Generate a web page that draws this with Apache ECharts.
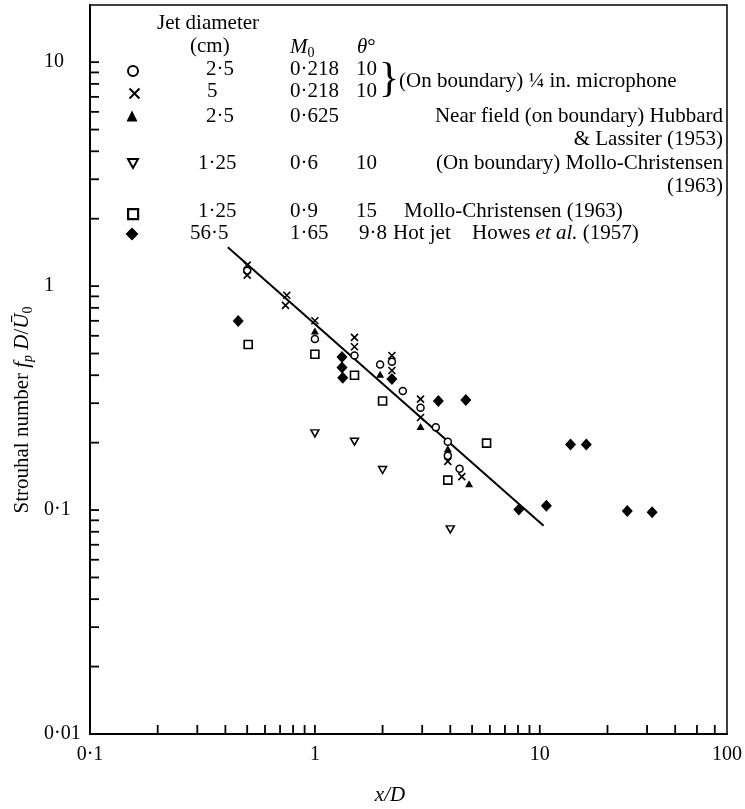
<!DOCTYPE html>
<html><head><meta charset="utf-8">
<script src="https://cdn.jsdelivr.net/npm/echarts@6/dist/echarts.min.js"></script>
<style>html,body{margin:0;padding:0;background:#fff}#c{width:745px;height:809px}</style>
</head><body><div id="c"></div>
<script>
// ---- data (x/D, Strouhal number) ----
const circleData   = [[0.5,1.17],[1.0,0.58],[1.5,0.49],[1.95,0.447],[2.2,0.46],[2.46,0.34],[2.95,0.286],[3.45,0.234],[3.9,0.202],[3.9,0.175],[4.4,0.153]];
const crossData    = [[0.5,1.24],[0.5,1.12],[0.75,0.91],[0.74,0.82],[1.0,0.70],[1.5,0.59],[1.5,0.536],[2.2,0.49],[2.2,0.42],[2.95,0.313],[2.95,0.259],[3.9,0.165],[4.5,0.141]];
const triangleData = [[1.0,0.63],[1.95,0.404],[2.95,0.236],[3.9,0.188],[4.85,0.131]];
const downTriData  = [[1.0,0.22],[1.5,0.202],[2.0,0.151],[4.0,0.082]];
const squareData   = [[0.505,0.549],[1.0,0.496],[1.5,0.40],[2.0,0.307],[3.9,0.136],[5.8,0.199]];
const diamondData  = [[0.456,0.698],[1.32,0.483],[1.32,0.433],[1.33,0.39],[2.2,0.385],[3.54,0.307],[4.69,0.31],[8.07,0.1007],[10.7,0.1045],[13.7,0.196],[16.1,0.196],[24.5,0.099],[31.6,0.0977]];
const fitLine      = [[0.41,1.49],[10.4,0.085]];

const xRange = [0.1, 68];
const yRange = [0.01, 18];
const xTickVals = [0.2,0.3,0.4,0.5,0.6,0.7,0.8,0.9,1,2,3,4,5,6,7,8,9,10,20,30,40,50,60];
const yTickVals = [0.02,0.03,0.04,0.05,0.06,0.07,0.08,0.09,0.1,0.2,0.3,0.4,0.5,0.6,0.7,0.8,0.9,1,2,3,4,5,6,7,8,9,10];
const xLabelMap = {'0.1':'0·1','1':'1','10':'10'};
const yLabelMap = {'0.01':'0·01','0.1':'0·1','1':'1','10':'10'};

const FONT = 'Liberation Serif';
const chart = echarts.init(document.getElementById('c'), null, {renderer:'canvas'});

function fmtX(v){
  for (const k in xLabelMap) if (Math.abs(Math.log10(v) - Math.log10(+k)) < 1e-6) return xLabelMap[k];
  if (v > 50) return '100';
  return '';
}
function fmtY(v){
  for (const k in yLabelMap) if (Math.abs(Math.log10(v) - Math.log10(+k)) < 1e-6) return yLabelMap[k];
  return '';
}

function tickSeries(vals, dir){
  return {
    type:'custom', silent:true, clip:false, z:5,
    data: vals.map(v => dir === 'y' ? [xRange[0], v] : [v, yRange[0]]),
    renderItem: function(params, api){
      const p = api.coord([api.value(0), api.value(1)]);
      const L = 9;
      const shape = dir === 'y'
        ? {x1:p[0], y1:p[1], x2:p[0]+L, y2:p[1]}
        : {x1:p[0], y1:p[1], x2:p[0], y2:p[1]-L};
      return {type:'line', shape:shape, style:{stroke:'#000', lineWidth:1.8}};
    }
  };
}

const hollow = {color:'#fff', borderColor:'#000', borderWidth:1.5, opacity:1};
const series = [
  {name:'s1', type:'scatter', data:circleData, symbol:'circle', symbolSize:7, itemStyle:hollow, z:3},
  {name:'s2', type:'scatter', data:crossData, symbol:'path://M0,0L10,10M0,10L10,0', symbolSize:7, itemStyle:{color:'none', borderColor:'#000', borderWidth:1.6, opacity:1}, z:3},
  {name:'s3', type:'scatter', data:triangleData, symbol:'triangle', symbolSize:[8,7], itemStyle:{color:'#000', opacity:1}, z:3},
  {name:'s4', type:'scatter', data:downTriData, symbol:'path://M0,0L10,0L5,9Z', symbolSize:[8,7], itemStyle:hollow, z:3},
  {name:'s5', type:'scatter', data:squareData, symbol:'rect', symbolSize:8, itemStyle:{color:'#fff', borderColor:'#000', borderWidth:1.6, opacity:1}, z:3},
  {name:'s6', type:'scatter', data:diamondData, symbol:'diamond', symbolSize:[11,12], itemStyle:{color:'#000', opacity:1}, z:3},
  {name:'fit', type:'line', data:fitLine, symbol:'none', lineStyle:{color:'#000', width:2}, z:2, silent:true},
  tickSeries(xTickVals, 'x'),
  tickSeries(yTickVals, 'y')
];

const legendRows = [['s1',70,10],['s2',91,10],['s3',116,11],['s4',163,10],['s5',213,10],['s6',234,13]];
const legends = legendRows.map(r => ({
  data:[r[0]], left:132 - r[2]/2, top:r[1] - r[2]/2, padding:0, itemWidth:r[2], itemHeight:r[2],
  selectedMode:false, formatter:function(){return '';}, textStyle:{fontSize:1},
  itemStyle:{opacity:1}
}));
legends[4].itemStyle = {borderWidth:2.2, borderColor:'#000', color:'#fff', opacity:1};

const T = (text, x, y, extra) => Object.assign({type:'text', x:x, y:y, z:10, style:Object.assign({
  text:text, fontFamily:FONT, fontSize:21, fill:'#000', align:'left', verticalAlign:'middle'}, extra||{})});
const rich = {
  n:{fontFamily:FONT, fontSize:21, fill:'#000', lineHeight:26},
  i:{fontFamily:FONT, fontSize:21, fill:'#000', fontStyle:'italic', lineHeight:26},
  s:{fontFamily:FONT, fontSize:14, fill:'#000', fontStyle:'italic', verticalAlign:'bottom', lineHeight:26},
  s0:{fontFamily:FONT, fontSize:14, fill:'#000', verticalAlign:'bottom', lineHeight:26}
};

const graphics = [
  T('Jet diameter', 157, 23),
  T('(cm)', 190, 46),
  T('{i|M}{s0|0}', 290, 47, {rich:rich}),
  T('{i|θ}{n|°}', 357, 47, {rich:rich}),
  T('2·5', 206, 69), T('0·218', 290, 69), T('10', 356, 69),
  T('5', 207, 91), T('0·218', 290, 91), T('10', 356, 91),
  T('}', 379, 80, {fontSize:42}),
  T('(On boundary) ¼ in. microphone', 399, 81),
  T('2·5', 206, 116), T('0·625', 290, 116),
  T('Near field (on boundary) Hubbard', 723, 116, {align:'right'}),
  T('& Lassiter (1953)', 723, 139, {align:'right'}),
  T('1·25', 198, 163), T('0·6', 290, 163), T('10', 356, 163),
  T('(On boundary) Mollo-Christensen', 723, 163, {align:'right'}),
  T('(1963)', 723, 186, {align:'right'}),
  T('1·25', 198, 211), T('0·9', 290, 211), T('15', 356, 211),
  T('Mollo-Christensen (1963)', 404, 211),
  T('56·5', 190, 233), T('1·65', 290, 233), T('9·8', 359, 233),
  T('Hot jet', 393, 233),
  T('{n|Howes }{i|et al.}{n| (1957)}', 472, 233, {rich:rich}),
  {type:'text', x:22, y:410, rotation:Math.PI/2, z:10, style:{
    text:'{n|Strouhal number }{i|f}{s|p}{n| }{i|D}{n|/}{i|Ū}{s0|0}', rich:rich,
    align:'center', verticalAlign:'middle'}},
  {type:'text', x:390, y:795, z:10, style:{text:'x/D', fontFamily:FONT, fontSize:21, fontStyle:'italic', fill:'#000', align:'center', verticalAlign:'middle'}}
];

chart.setOption({
  animation:false,
  backgroundColor:'#fff',
  grid:{left:90, right:15, top:5, bottom:75, show:true, borderColor:'#000', borderWidth:1.5, backgroundColor:'transparent'},
  xAxis:{type:'log', logBase:10, min:xRange[0], max:xRange[1],
    axisLine:{show:true, lineStyle:{color:'#000', width:2}},
    axisTick:{show:false}, splitLine:{show:false}, minorTick:{show:false},
    axisLabel:{show:true, formatter:fmtX, showMinLabel:true, showMaxLabel:true, margin:11, color:'#000', fontFamily:FONT, fontSize:20}},
  yAxis:{type:'log', logBase:10, min:yRange[0], max:yRange[1],
    axisLine:{show:true, lineStyle:{color:'#000', width:2}},
    axisTick:{show:false}, splitLine:{show:false}, minorTick:{show:false},
    axisLabel:{show:true, formatter:fmtY, showMinLabel:true, showMaxLabel:true, margin:46, align:'left', color:'#000', fontFamily:FONT, fontSize:20}},
  legend:legends,
  series:series,
  graphic:graphics
});
</script></body></html>
